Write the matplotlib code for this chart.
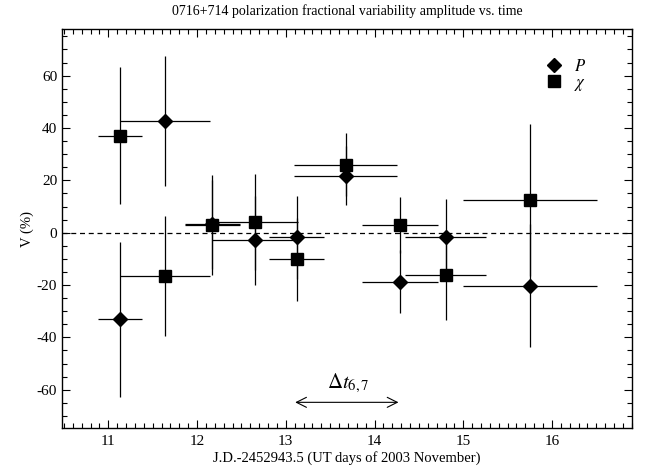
import matplotlib
matplotlib.use("Agg")
import matplotlib.pyplot as plt
from matplotlib.lines import Line2D
from matplotlib.ticker import MultipleLocator

plt.rcParams['font.family'] = ['Liberation Serif', 'DejaVu Serif']
plt.rcParams['mathtext.fontset'] = 'stix'
plt.rcParams['axes.unicode_minus'] = False

# days (J.D.-2452943.5) and half widths of the bins
days = [11.13, 11.64, 12.17, 12.654, 13.124, 13.676, 14.289, 14.80, 15.754]
day_err = [0.25, 0.51, 0.31, 0.48, 0.31, 0.58, 0.43, 0.46, 0.755]

# fractional variability amplitude, percent
v_p = [-33.0, 42.8, 3.2, -2.8, -1.8, 21.8, -18.7, -1.6, -20.2]
v_p_err = [29.6, 24.8, 17.0, 17.0, 15.8, 11.2, 11.9, 14.5, 23.6]
v_chi = [37.1, -16.5, 2.9, 4.0, -10.2, 26.0, 2.9, -16.2, 12.5]
v_chi_err = [26.2, 23.0, 19.0, 18.4, 15.8, 12.1, 10.6, 17.2, 29.0]

fig = plt.figure(figsize=(6.54, 4.68), dpi=100)
ax = fig.add_axes([0.0948, 0.0855, 0.8716, 0.8525])

ax.axhline(0, color="black", lw=0.9, ls=(0, (4, 3)))

ax.errorbar(days, v_p, xerr=day_err, yerr=v_p_err, fmt="D", ms=7.2,
            color="black", ecolor="black", elinewidth=0.9, capsize=0)
ax.errorbar(days, v_chi, xerr=day_err, yerr=v_chi_err, fmt="s", ms=8,
            color="black", ecolor="black", elinewidth=0.9, capsize=0)

# time interval annotation
ax.annotate("", xy=(13.106, -64.8), xytext=(14.27, -64.8),
            arrowprops=dict(arrowstyle="<->", lw=0.8, color="black",
                            mutation_scale=18, shrinkA=0, shrinkB=0))
ax.text(13.7, -57.5, r"$\Delta t_{6,7}$", ha="center", va="center", fontsize=15)

ax.set_xlim(10.478, 16.902)
ax.set_ylim(-74.6, 77.8)
ax.xaxis.set_major_locator(MultipleLocator(1))
ax.xaxis.set_minor_locator(MultipleLocator(0.1))
ax.yaxis.set_major_locator(MultipleLocator(20))
ax.yaxis.set_minor_locator(MultipleLocator(5))
ax.tick_params(which="both", direction="in", top=True, right=True, labelsize=11,
               width=0.8, color="black")
ax.tick_params(which="major", length=6)
ax.tick_params(which="minor", length=3.5)
ax.tick_params(axis="x", pad=5)
for s in ax.spines.values():
    s.set_linewidth(1.0)

ax.set_xlabel("J.D.-2452943.5 (UT days of 2003 November)", fontsize=10.5, labelpad=2)
ax.set_ylabel("V (%)", fontsize=10.5, labelpad=2)
ax.set_title("0716+714 polarization fractional variability amplitude vs. time",
             fontsize=10, pad=10)

handles = [Line2D([], [], ls="none", marker="D", ms=7.2, color="black"),
           Line2D([], [], ls="none", marker="s", ms=8, color="black")]
ax.legend(handles, ["$P$", r"$\chi$"], loc="upper left", bbox_to_anchor=(0.848, 0.925),
          frameon=False, fontsize=12, handlelength=1.0, handletextpad=0.7,
          labelspacing=0.0, borderpad=0, borderaxespad=0)

fig.savefig("out.png", dpi=100)
